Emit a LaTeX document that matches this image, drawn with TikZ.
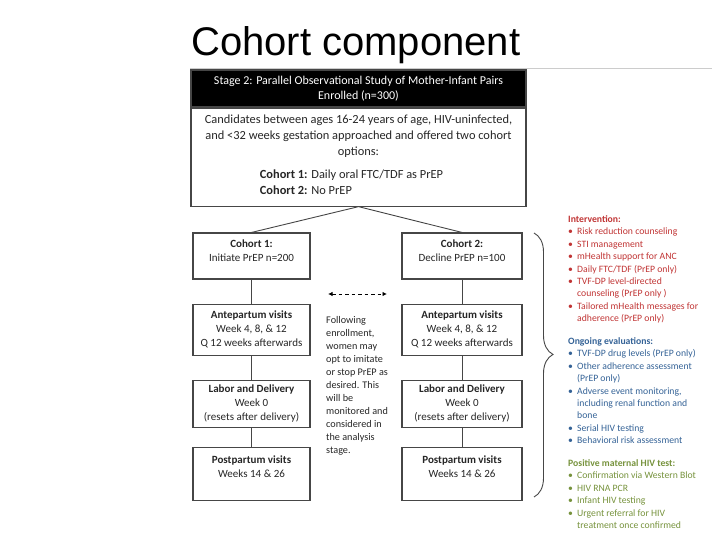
\documentclass[tikz,border=0pt]{standalone}
\usepackage{fontspec}
\setmainfont{Carlito}
\newfontfamily\titlefont{Liberation Sans}
\usepackage{xcolor}
\usepackage{tikz}
\usetikzlibrary{arrows.meta,positioning,calc,decorations.pathreplacing}
\definecolor{ccred}{RGB}{192,52,52}
\definecolor{ccblue}{RGB}{52,98,150}
\definecolor{ccgreen}{RGB}{118,146,60}
\definecolor{ccframe}{RGB}{70,70,70}
\tikzset{
  ccbox/.style={draw=ccframe, line width=1.1pt, fill=white, align=center, inner sep=3pt, minimum width=117pt, text=black!85, font=\fontsize{11}{14}\selectfont},
  cchead/.style={draw=ccframe, line width=1.1pt, fill=black, text=white, align=center, inner sep=0pt, minimum width=335pt, minimum height=37pt, font=\fontsize{12}{15}\selectfont},
  ccline/.style={draw=ccframe, line width=0.9pt},
  ccdash/.style={{Latex[length=4.5pt,width=4.5pt]}-{Latex[length=4.5pt,width=4.5pt]}, dash pattern=on 3.5pt off 3pt, line width=1pt},
  cclist/.style={anchor=north west, align=left, inner sep=0pt, font=\fontsize{9.7}{12.4}\selectfont}
}
\newcommand{\bl}{\makebox[9pt][l]{\textbullet}}
\newcommand{\ind}{\hspace*{9pt}}

\begin{document}
\begin{tikzpicture}[x=1pt, y=-1pt, node distance=24pt]
  \useasboundingbox (0,0) rectangle (720,540);

  \node[anchor=base west, inner sep=0pt, font=\titlefont\fontsize{40}{44}\selectfont] (title) at (191,56) {Cohort component};
  \coordinate (rulel) at (190,68);
  \coordinate (ruler) at (712,68);
  \draw[gray!40, line width=0.8pt] (rulel) -- (ruler);

  % enrolment block
  \node[cchead] (hdr) at (358.5,88.5) {Stage 2: Parallel Observational Study of Mother-Infant Pairs\\Enrolled (n=300)};
  \node[ccbox, below=0pt of hdr, minimum width=335pt, minimum height=98pt, font=\fontsize{12.4}{16}\selectfont] (intro)
    {Candidates between ages 16-24 years of age, HIV-uninfected,\\and <32 weeks gestation approached and offered two cohort\\options:\\[8pt]
     \hspace*{-14pt}\begin{tabular}{@{}l@{}}\textbf{Cohort 1:} Daily oral FTC/TDF as PrEP\\\textbf{Cohort 2:} No PrEP\end{tabular}};

  % cohort 1 column
  \node[ccbox, minimum height=46pt] (coh1) at (251.5,256) {\textbf{Cohort 1:}\\Initiate PrEP n=200\\[-3pt]\mbox{}};
  \node[ccbox, below=of coh1, minimum height=51pt] (ante1) {\textbf{Antepartum visits}\\Week 4, 8, \& 12\\Q 12 weeks afterwards};
  \node[ccbox, below=of ante1, minimum height=47pt] (lab1) {\textbf{Labor and Delivery}\\Week 0\\(resets after delivery)};
  \node[ccbox, below=19pt of lab1, minimum height=53pt] (post1) {\textbf{Postpartum visits}\\Weeks 14 \& 26\\\mbox{}};

  % cohort 2 column
  \node[ccbox, minimum width=120pt, minimum height=46pt] (coh2) at (462,256) {\textbf{Cohort 2:}\\Decline PrEP n=100\\[-3pt]\mbox{}};
  \node[ccbox, below=of coh2, minimum width=120pt, minimum height=51pt] (ante2) {\textbf{Antepartum visits}\\Week 4, 8, \& 12\\Q 12 weeks afterwards};
  \node[ccbox, below=of ante2, minimum width=120pt, minimum height=47pt] (lab2) {\textbf{Labor and Delivery}\\Week 0\\(resets after delivery)};
  \node[ccbox, below=19pt of lab2, minimum width=120pt, minimum height=53pt] (post2) {\textbf{Postpartum visits}\\Weeks 14 \& 26\\\mbox{}};

  \draw[ccline] (intro.south) -- (coh1.north);
  \draw[ccline] (intro.south) -- (coh2.north);
  \draw[ccline] (coh1) -- (ante1);
  \draw[ccline] (ante1) -- (lab1);
  \draw[ccline] (lab1) -- (post1);
  \draw[ccline] (coh2) -- (ante2);
  \draw[ccline] (ante2) -- (lab2);
  \draw[ccline] (lab2) -- (post2);

  % switching between cohorts
  \coordinate (swl) at (328,294);
  \coordinate (swr) at (387,294);
  \draw[ccdash] (swl) -- (swr);
  \node[anchor=north west, align=left, inner sep=0pt, text=black!85, font=\fontsize{10.2}{13}\selectfont] (note) at (326,316.5)
    {Following\\enrollment,\\women may\\opt to imitate\\or stop PrEP as\\desired. This\\will be\\monitored and\\considered in\\the analysis\\stage.};

  % brace and side lists
  \coordinate (bracet) at (534,233);
  \coordinate (braceb) at (534,497);
  \draw[ccframe, line width=0.9pt, decorate, decoration={brace, amplitude=19pt, aspect=0.46}] (bracet) -- (braceb);

  \begin{scope}
    \clip (560,200) rectangle (700,540);
    \node[cclist, text=ccred] (interv) at (568,215.5)
      {\textbf{Intervention:}\\
       \bl Risk reduction counseling\\
       \bl STI management\\
       \bl mHealth support for ANC\\
       \bl Daily FTC/TDF (PrEP only)\\
       \bl TVF-DP level-directed\\
       \ind counseling (PrEP only )\\
       \bl Tailored mHealth messages for\\
       \ind adherence (PrEP only)};
    \node[cclist, text=ccblue] (evals) at (568,337.5)
      {\textbf{Ongoing evaluations:}\\
       \bl TVF-DP drug levels (PrEP only)\\
       \bl Other adherence assessment\\
       \ind (PrEP only)\\
       \bl Adverse event monitoring,\\
       \ind including renal function and\\
       \ind bone\\
       \bl Serial HIV testing\\
       \bl Behavioral risk assessment};
    \node[cclist, text=ccgreen] (posit) at (568,459.5)
      {\textbf{Positive maternal HIV test:}\\
       \bl Confirmation via Western Blot\\
       \bl HIV RNA PCR\\
       \bl Infant HIV testing\\
       \bl Urgent referral for HIV\\
       \ind treatment once confirmed};
  \end{scope}
\end{tikzpicture}
\end{document}
